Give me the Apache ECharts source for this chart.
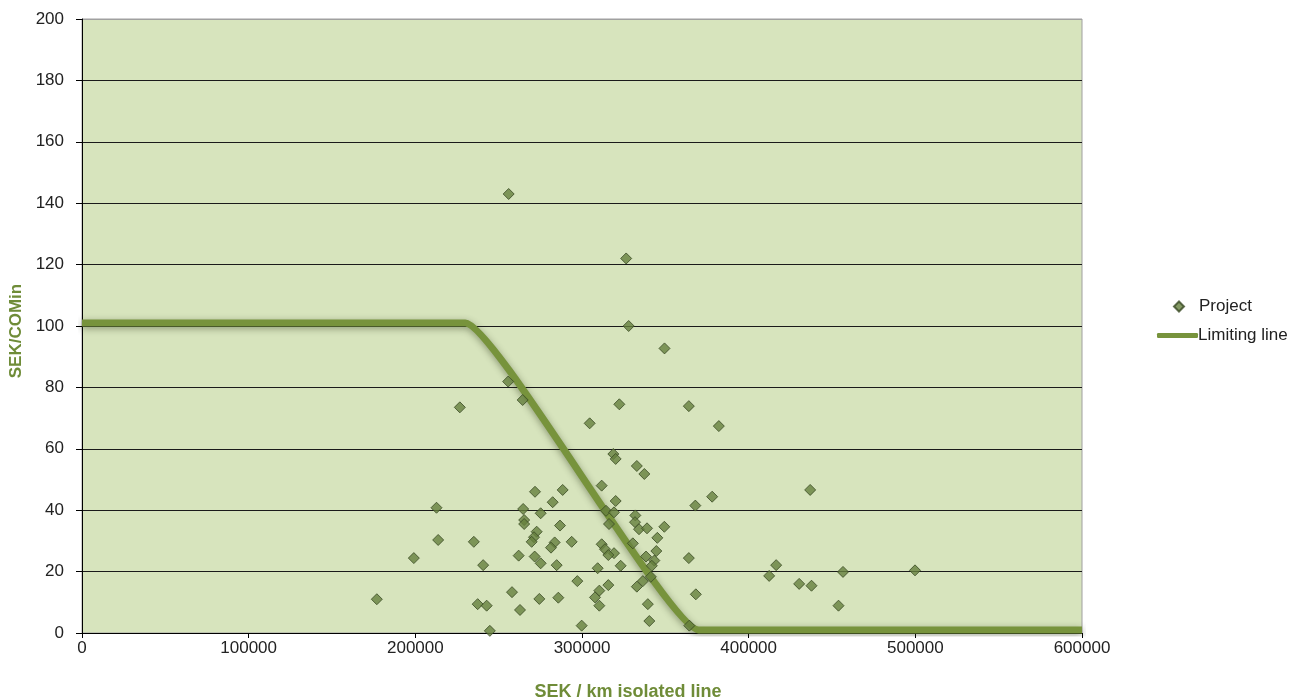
<!DOCTYPE html>
<html>
<head>
<meta charset="utf-8">
<script src="https://cdn.jsdelivr.net/npm/echarts@6/dist/echarts.min.js"></script>
<style>
html,body{margin:0;padding:0;background:#fff;}
#chart{width:1305px;height:700px;}
</style>
</head>
<body>
<div id="chart"></div>
<script>
// Project points: x = SEK / km isolated line, y = SEK/COMin
const projectX = [256000,326500,328000,349500,255700,264400,226700,322400,364100,304600,
  382100,318800,320200,332900,337400,311800,271800,288400,282400,320200,
  368000,378100,436900,212700,264700,275200,265300,265300,286800,272800,
  271200,269800,283600,281400,213700,235100,262000,271600,275200,284800,
  240700,258000,274400,285800,237400,242800,262800,244700,293800,314400,
  319200,332000,331800,334200,339000,349400,316200,345200,330500,311800,
  313800,319200,315800,344600,338400,343400,364100,341900,323200,309400,
  341300,297200,336500,332900,315800,310400,307800,310400,368300,339500,
  340400,299800,364400,199100,176900,416500,412300,430300,437700,456600,
  499800,453900];
const projectY = [143,122,100,92.7,81.9,75.9,73.5,74.5,73.9,68.3,
  67.4,58.3,56.7,54.4,51.8,48.0,46.0,46.6,42.6,43.0,
  41.5,44.4,46.6,40.8,40.4,39.0,36.8,35.5,35.0,33.0,
  31.2,29.7,29.5,27.8,30.3,29.7,25.2,24.9,22.7,22.1,
  22.1,13.3,11.1,11.5,9.4,8.9,7.5,0.7,29.7,39.8,
  39.3,38.3,36.1,33.8,34.1,34.6,35.5,31.0,29.2,28.9,
  27.3,26.0,25.4,26.7,24.9,23.6,24.4,21.9,21.9,21.1,
  18.3,16.9,16.9,15.1,15.6,13.8,11.6,8.9,12.6,9.4,
  3.9,2.4,2.4,24.4,11.0,22.1,18.6,16.0,15.4,19.9,
  20.4,8.9];
// Limiting line
const limitX = [0,230000,370000,600000];
const limitY = [101,101,1,1];
// Axis ticks
const xTicks = [0,100000,200000,300000,400000,500000,600000];
const yTicks = [0,20,40,60,80,100,120,140,160,180,200];

const projectData = projectX.map((x,i)=>[x,projectY[i]]);
const limitData = limitX.map((x,i)=>[x,limitY[i]]);

const splitColors = yTicks.map((v,i)=> i===yTicks.length-1 ? '#a0a0a0' : '#1a1a1a');
const FONT = 'Liberation Sans, Arial, sans-serif';

const chart = echarts.init(document.getElementById('chart'));
chart.setOption({
  animation:false,
  backgroundColor:'#ffffff',
  grid:{left:82,right:223,top:19,bottom:67,show:true,backgroundColor:'#d7e4bd',borderColor:'#a0a0a0',borderWidth:1,containLabel:false,outerBoundsMode:'none'},
  legend:[
    {data:['Project'],orient:'vertical',left:1168,top:293,icon:'diamond',itemWidth:10,itemHeight:10,
     textStyle:{fontFamily:FONT,fontSize:17,color:'#222',padding:[0,0,0,10]}},
    {data:['Limiting line'],orient:'vertical',left:1152,top:322,icon:'roundRect',itemWidth:41,itemHeight:5,
     textStyle:{fontFamily:FONT,fontSize:17,color:'#222',padding:[0,0,0,-5]}}
  ],
  xAxis:{type:'value',min:0,max:600000,interval:100000,
    name:'SEK / km isolated line',nameLocation:'middle',nameGap:50,
    nameTextStyle:{fontFamily:FONT,fontWeight:'bold',fontSize:18,color:'#6f8c38',padding:[0,0,0,92]},
    axisLine:{show:true,lineStyle:{color:'#000',width:1}},
    axisTick:{show:true,length:5,lineStyle:{color:'#000'}},
    axisLabel:{fontFamily:FONT,fontSize:17,color:'#222',margin:7,formatter:v=>String(v)},
    splitLine:{show:false}},
  yAxis:{type:'value',min:0,max:200,interval:20,
    name:'SEK/COMin',nameLocation:'middle',nameGap:55,nameRotate:90,
    nameTextStyle:{fontFamily:FONT,fontWeight:'bold',fontSize:17,color:'#6f8c38',padding:[0,10,0,0]},
    axisLine:{show:true,lineStyle:{color:'#000',width:1}},
    axisTick:{show:true,length:6,lineStyle:{color:'#000'}},
    axisLabel:{fontFamily:FONT,fontSize:17,color:'#222',margin:18},
    splitLine:{show:true,lineStyle:{color:splitColors,width:1}}},
  series:[
    {name:'Limiting line',type:'line',data:limitData,symbol:'none',smooth:0.12,smoothMonotone:'x',z:2,
     itemStyle:{color:'#77933c'},
     lineStyle:{color:'#77933c',width:7,shadowColor:'rgba(40,50,20,0.45)',shadowBlur:7,shadowOffsetY:2}},
    {name:'Project',type:'scatter',data:projectData,symbol:'diamond',symbolSize:11,z:3,
     itemStyle:{color:'#657f3d',borderColor:'#3a4a24',borderWidth:1}}
  ]
});
</script>
</body>
</html>
